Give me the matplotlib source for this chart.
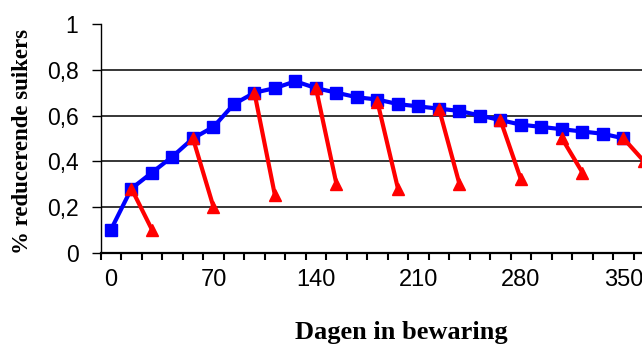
import matplotlib
matplotlib.use("Agg")
import matplotlib.pyplot as plt
from matplotlib.ticker import FixedLocator, FuncFormatter

# Data
days = [0, 14, 28, 42, 56, 70, 84, 98, 112, 126, 140, 154, 168, 182, 196,
        210, 224, 238, 252, 266, 280, 294, 308, 322, 336, 350]
stored = [0.10, 0.28, 0.35, 0.42, 0.50, 0.55, 0.65, 0.70, 0.72, 0.75, 0.72,
          0.70, 0.68, 0.67, 0.65, 0.64, 0.63, 0.62, 0.60, 0.58, 0.56, 0.55,
          0.54, 0.53, 0.52, 0.50]
recond_start_days = [14, 56, 98, 140, 182, 224, 266, 308, 350]
recond_start_vals = [0.28, 0.50, 0.70, 0.72, 0.66, 0.63, 0.58, 0.50, 0.50]
recond_end_days = [28, 70, 112, 154, 196, 238, 280, 322, 364]
recond_end_vals = [0.10, 0.20, 0.25, 0.30, 0.28, 0.30, 0.32, 0.35, 0.40]
x_labels = [0, 70, 140, 210, 280, 350]
y_ticks = [0, 0.2, 0.4, 0.6, 0.8, 1.0]
cat_width = 14

fig = plt.figure(figsize=(6.42, 3.45), dpi=100)
ax = fig.add_axes([100.7 / 642, (345 - 252.5) / 345, 1 - 100.7 / 642, 228.3 / 345])

ax.plot(days, stored, color="#0000FF", lw=3.0, marker="s", ms=8,
        mec="#0000FF", mfc="#0000FF", zorder=3, clip_on=False)
for sd, sv, ed, ev in zip(recond_start_days, recond_start_vals,
                          recond_end_days, recond_end_vals):
    ax.plot([sd, ed], [sv, ev], color="#FF0000", lw=3.0, marker="^", ms=9,
            mec="#FF0000", mfc="#FF0000", zorder=4, clip_on=False)

ax.set_xlim(-cat_width / 2, -cat_width / 2 + (642 - 100.7) / 20.5 * cat_width)
ax.set_ylim(0, 1)

# x axis: ticks between categories, labels on categories
bounds = [d - cat_width / 2 for d in days] + [days[-1] + cat_width / 2]
ax.xaxis.set_major_locator(FixedLocator(bounds))
ax.xaxis.set_major_formatter(FuncFormatter(lambda v, p: ""))
ax.xaxis.set_minor_locator(FixedLocator(x_labels))
ax.xaxis.set_minor_formatter(FuncFormatter(lambda v, p: f"{int(round(v))}"))
ax.tick_params(axis="x", which="major", direction="out", length=5, width=1.5)
ax.tick_params(axis="x", which="minor", length=0, pad=12, labelsize=17)

ax.set_yticks(y_ticks)
ax.yaxis.set_major_formatter(FuncFormatter(lambda v, p: f"{v:g}".replace(".", ",")))
ax.tick_params(axis="y", direction="out", length=6.5, width=1.0, pad=9.5, labelsize=16.5)

for lab in ax.get_xticklabels(which="minor") + ax.get_yticklabels():
    lab.set_fontfamily("Liberation Sans")

ax.yaxis.grid(True, color="black", lw=1.1)
gl = ax.yaxis.get_gridlines()
gl[0].set_visible(False)
gl[-1].set_visible(False)
ax.set_axisbelow(True)

for s in ["top", "right"]:
    ax.spines[s].set_visible(False)
ax.spines["bottom"].set_linewidth(1.6)
ax.spines["left"].set_linewidth(1.0)

fig.text(401 / 642, 1 - 339 / 345, "Dagen in bewaring", ha="center", va="baseline",
         fontsize=19, fontweight="bold", family="Liberation Serif")
fig.text(23 / 642, 1 - 142 / 345, "% reducerende suikers", ha="center", va="center",
         rotation=90, fontsize=16.5, fontweight="bold", family="Liberation Serif")

fig.savefig("out.png", dpi=100)
